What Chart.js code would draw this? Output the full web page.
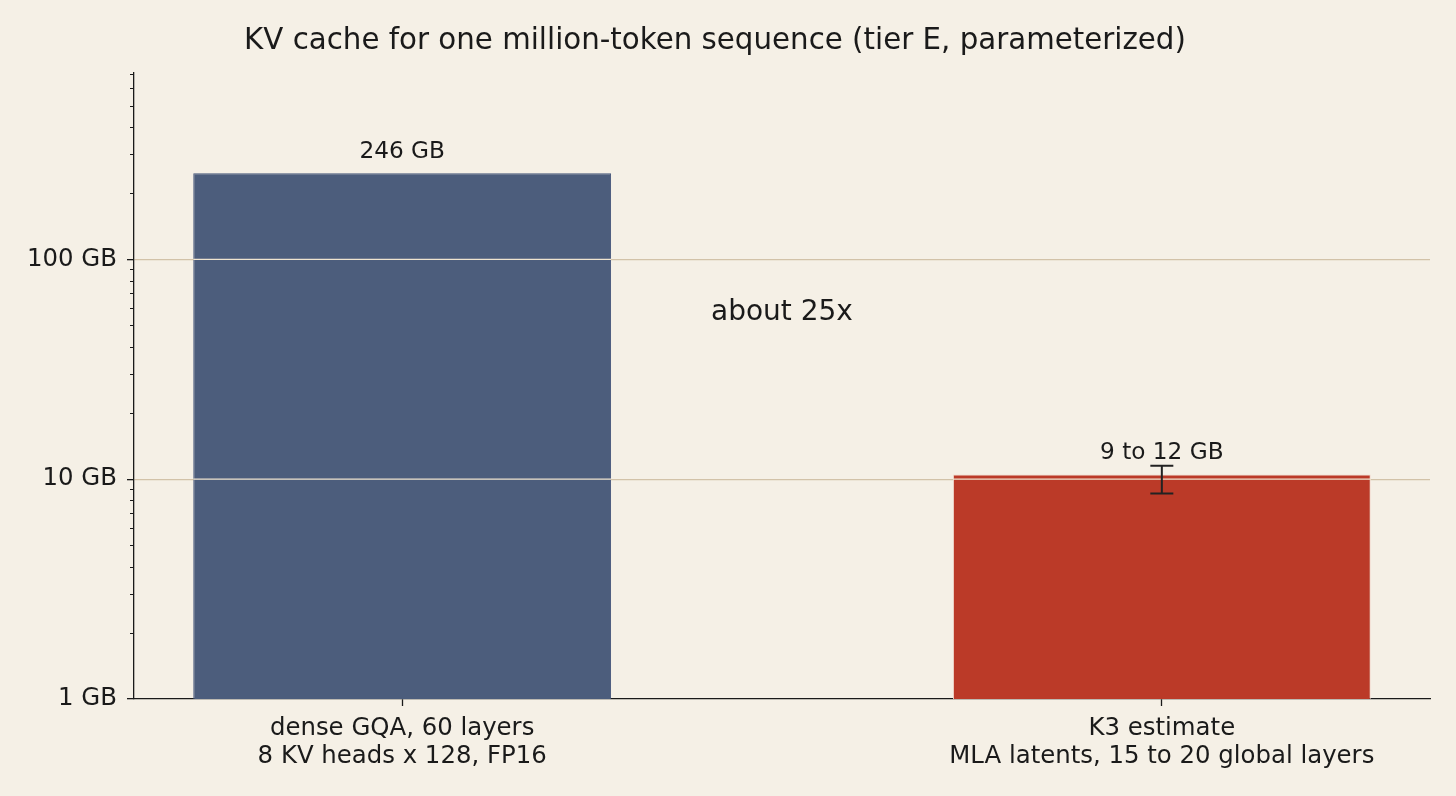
<!DOCTYPE html>
<html>
<head>
<meta charset="utf-8">
<script src="https://cdn.jsdelivr.net/npm/chart.js@4/dist/chart.umd.min.js"></script>
<style>
  html, body { margin: 0; padding: 0; background: #f5f0e6; font-family: "DejaVu Sans"; }
  canvas { display: block; }
</style>
</head>
<body>
<canvas id="c" width="1456" height="796"></canvas>
<script>
// ---- data ----
const categories = [
  ['dense GQA, 60 layers', '8 KV heads x 128, FP16'],
  ['K3 estimate', 'MLA latents, 15 to 20 global layers']
];
const categoryPositions = [0, 1];
const values = [246, 10.5];
const errLow = [null, 8.6];
const errHigh = [null, 11.5];
const barLabels = ['246 GB', '9 to 12 GB'];
const barColors = ['#4c5d7c', '#bb3a28'];
const yMajorTicks = [1, 10, 100];
const yMajorLabels = ['1 GB', '10 GB', '100 GB'];
const yMinorTicks = [2, 3, 4, 5, 6, 7, 8, 9, 20, 30, 40, 50, 60, 70, 80, 90, 200, 300, 400, 500, 600, 700];
const ratioText = 'about 25x';
const ratioPos = [0.5, 57];
const titleText = 'KV cache for one million-token sequence (tier E, parameterized)';

const FONT = '"DejaVu Sans"';
const TEXT = '#1a1a1a';
const BG = '#f5f0e6';
const GRID = '#d2c2a8';

const bgPlugin = {
  id: 'bg',
  beforeDraw(chart) {
    const ctx = chart.ctx;
    ctx.save();
    ctx.fillStyle = BG;
    ctx.fillRect(0, 0, chart.width, chart.height);
    ctx.restore();
  }
};

const overlayPlugin = {
  id: 'overlay',
  afterDatasetsDraw(chart) {
    const ctx = chart.ctx;
    const xs = chart.scales.x, ys = chart.scales.y;
    const meta = chart.getDatasetMeta(0);
    ctx.save();
    yMajorTicks.forEach(v => {
      if (v <= ys.min) return;
      const y = ys.getPixelForValue(v);
      meta.data.forEach(bar => {
        if (bar.y < y) {
          ctx.strokeStyle = '#efe4cf';
          ctx.lineWidth = 1.3;
          ctx.beginPath();
          ctx.moveTo(bar.x - bar.width / 2, y);
          ctx.lineTo(bar.x + bar.width / 2, y);
          ctx.stroke();
        }
      });
    });
    values.forEach((v, i) => {
      if (errLow[i] == null) return;
      const x = xs.getPixelForValue(categoryPositions[i]);
      const y1 = ys.getPixelForValue(errHigh[i]);
      const y2 = ys.getPixelForValue(errLow[i]);
      ctx.strokeStyle = '#222';
      ctx.lineWidth = 2;
      ctx.beginPath();
      ctx.moveTo(x, y1); ctx.lineTo(x, y2);
      ctx.moveTo(x - 11.5, y1); ctx.lineTo(x + 11.5, y1);
      ctx.moveTo(x - 11.5, y2); ctx.lineTo(x + 11.5, y2);
      ctx.stroke();
    });
    ctx.fillStyle = TEXT;
    ctx.font = '23.2px ' + FONT;
    ctx.textAlign = 'center';
    ctx.textBaseline = 'alphabetic';
    values.forEach((v, i) => {
      const x = xs.getPixelForValue(categoryPositions[i]);
      const y = ys.getPixelForValue(v) - 15;
      ctx.fillText(barLabels[i], x, y);
    });
    ctx.font = '28px ' + FONT;
    ctx.textBaseline = 'middle';
    ctx.fillText(ratioText, xs.getPixelForValue(ratioPos[0]), ys.getPixelForValue(ratioPos[1]));
    ctx.restore();
  },
  afterDraw(chart) {
    const ctx = chart.ctx;
    const ys = chart.scales.y;
    ctx.save();
    ctx.strokeStyle = '#1a1a1a';
    ctx.lineWidth = 1;
    yMinorTicks.forEach(v => {
      if (v > ys.max) return;
      const y = Math.round(ys.getPixelForValue(v)) + 0.5;
      ctx.beginPath();
      ctx.moveTo(ys.right - 4, y);
      ctx.lineTo(ys.right, y);
      ctx.stroke();
    });
    ctx.restore();
  }
};

function build() {
  new Chart(document.getElementById('c'), {
    type: 'bar',
    data: {
      datasets: [{
        data: values.map((v, i) => ({ x: categoryPositions[i], y: v })),
        backgroundColor: barColors,
        borderColor: ['#44557a', '#f0d8cc'],
        borderWidth: 1,
        barPercentage: 0.55,
        categoryPercentage: 1.0
      }]
    },
    plugins: [bgPlugin, overlayPlugin],
    options: {
      responsive: false,
      animation: false,
      layout: { padding: { left: 0, right: 26, top: 0, bottom: 0 } },
      plugins: {
        legend: { display: false },
        tooltip: { enabled: false },
        title: {
          display: true,
          text: titleText,
          color: TEXT,
          font: { family: FONT, size: 29.3, weight: 'normal', lineHeight: 1.2 },
          padding: { top: 24, bottom: 13 }
        }
      },
      scales: {
        x: {
          type: 'linear',
          min: -0.353,
          max: 1.353,
          offset: false,
          afterBuildTicks(scale) { scale.ticks = categoryPositions.map(v => ({ value: v })); },
          afterFit(scale) { scale.height = 97; },
          ticks: {
            color: TEXT,
            font: { family: FONT, size: 24.4, lineHeight: 1.15 },
            padding: 9,
            maxRotation: 0,
            autoSkip: false,
            callback: (v) => categories[categoryPositions.indexOf(v)]
          },
          grid: { drawOnChartArea: false, offset: false, tickLength: 7, tickColor: '#1a1a1a', tickWidth: 1.3 },
          border: { display: true, color: '#1a1a1a', width: 1.3 }
        },
        y: {
          type: 'logarithmic',
          min: 1,
          max: 710,
          afterBuildTicks(scale) { scale.ticks = yMajorTicks.map(v => ({ value: v, major: true })); },
          afterFit(scale) { scale.width = 134; },
          ticks: {
            color: TEXT,
            font: { family: FONT, size: 24.4 },
            padding: 10,
            autoSkip: false,
            callback: (v) => yMajorLabels[yMajorTicks.indexOf(v)]
          },
          grid: {
            color: (c) => (c.tick && c.tick.value > 1 ? GRID : 'rgba(0,0,0,0)'),
            lineWidth: 1.3,
            tickLength: 7,
            tickColor: '#1a1a1a',
            tickWidth: 1.3
          },
          border: { display: true, color: '#1a1a1a', width: 1.3 }
        }
      }
    }
  });
}

Promise.all([
  document.fonts.load('22px "DejaVu Sans"'),
  document.fonts.load('28px "DejaVu Sans"')
]).then(build, build);
</script>
</body>
</html>
